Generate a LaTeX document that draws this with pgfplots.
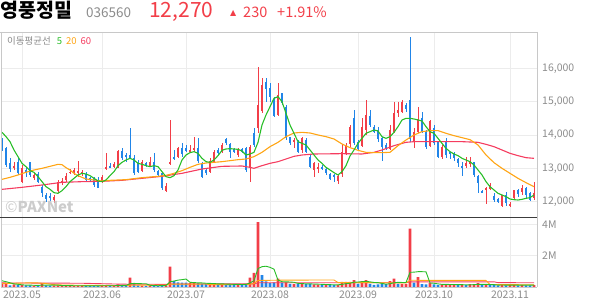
\documentclass[border=0pt]{standalone}
\usepackage{fontspec}
\setmainfont{Noto Sans CJK KR}
\newfontfamily\dv{DejaVu Sans}
\usepackage{pgfplots}
\usepackage{pgfplotstable}
\pgfplotsset{compat=1.18}
\definecolor{cup}{RGB}{242,62,72}
\definecolor{cdn}{RGB}{33,133,232}
\definecolor{ma5}{RGB}{40,190,40}
\definecolor{ma20}{RGB}{255,165,20}
\definecolor{ma60}{RGB}{245,60,95}
\definecolor{gridc}{RGB}{236,236,236}
\definecolor{lbl}{RGB}{140,140,140}
\definecolor{bordc}{RGB}{200,200,200}
\definecolor{darkc}{RGB}{60,60,60}

\pgfplotstableread{
i o h l c
-2 13000 13200 12950 13060
0 12580 13100 12550 13000
3 12720 12850 12650 12800
8 12050 12200 11950 12150
9 12330 12650 12250 12600
10 12550 12700 12500 12620
11 12650 12850 12600 12770
12 12850 12980 12820 12900
13 12870 13000 12800 12940
14 12850 13230 12730 12930
15 12830 12950 12780 12900
20 12600 12800 12550 12750
21 12980 13450 12950 13050
23 13040 13200 13000 13120
24 13020 13550 13000 13520
30 12920 13250 12900 13200
32 13080 13350 13050 13200
36 12320 12550 12280 12480
37 13120 14450 13100 13200
39 13350 13650 13300 13600
42 13480 13700 13450 13550
43 13550 13950 13500 13620
47 12890 13300 12850 13220
48 13200 13550 13150 13500
50 13500 13750 13450 13700
54 13400 13600 13350 13570
57 13000 13700 12600 13650
59 14200 16030 14050 14900
60 14720 15700 14650 15500
64 14600 15550 14570 15200
68 13790 13900 13600 13850
70 13550 13950 13450 13900
73 12950 13200 12750 13150
74 12970 13150 12850 13050
79 12620 12800 12530 12780
80 12820 13730 12750 13500
81 13450 13750 13400 13700
82 13720 14300 13650 14250
85 13680 14500 13650 14250
86 14150 15050 14000 14600
92 13570 14300 13550 14150
93 14100 15000 14050 14650
94 14650 15000 14550 14750
95 14700 15050 14650 15000
98 13800 14200 13600 14100
99 14100 14850 14050 14470
102 13680 14450 13650 14420
105 13340 13700 13280 13640
111 13060 13330 13000 13150
112 13130 13350 13050 13200
116 12350 12450 11920 12420
117 12380 12550 12350 12500
120 11860 12200 11830 12200
122 11870 12000 11850 11930
123 12100 12350 12050 12350
125 12280 12500 12200 12400
128 12100 12600 12050 12270
}\up

\pgfplotstableread{
i o h l c
-5 13830 13900 13530 13710
-4 13600 13650 13050 13100
-3 13170 13300 12900 12980
-1 13180 13350 12800 12870
1 12950 13050 12750 12850
2 13180 13200 12750 12800
4 12830 12900 12550 12600
5 12430 12500 12150 12250
6 12200 12250 12000 12080
7 12160 12250 11950 12100
16 12830 12900 12600 12650
17 12700 12750 12600 12650
18 12720 12750 12450 12500
19 12650 12750 12400 12420
22 13080 13150 13000 13020
25 13520 13600 13250 13300
26 13400 13450 13200 13330
27 13400 14200 13300 13320
28 13320 13400 12800 12850
29 13150 13250 12850 12880
31 13150 13200 13050 13080
33 13200 13450 12900 12950
34 12920 12950 12750 12800
35 12850 12900 12350 12400
38 13350 13550 13250 13280
40 13600 13750 13350 13420
41 13600 13700 13500 13520
44 13600 13900 13150 13230
45 13150 13200 12700 12750
46 12950 13000 12800 12850
49 13550 13600 13400 13450
51 13870 13900 13700 13770
52 13730 13750 13300 13500
53 13570 13600 13450 13500
55 13570 13600 13450 13500
56 13600 13650 12900 12950
58 14050 14200 13650 13700
61 15600 15700 15000 15370
62 15400 15550 15000 15150
63 15050 15150 14550 14570
65 15250 15250 14900 14950
66 14850 14900 13850 13900
67 13930 13950 13700 13750
69 13800 13850 13450 13500
71 13850 13900 13450 13500
72 13350 13400 13000 13030
75 13030 13100 12950 12970
76 12970 13050 12800 12870
77 12830 12850 12650 12670
78 12800 12830 12580 12730
83 14500 14750 13700 13750
84 13800 13850 13550 13570
87 14570 14750 14250 14300
88 14250 14300 14050 14100
89 14150 14250 13800 13870
90 13900 13950 13230 13650
91 13700 13750 13550 13600
96 14900 14950 14700 14770
97 15050 16930 13800 13880
100 14500 14700 14050 14100
101 14100 14150 13570 13650
103 14200 14300 13700 13750
104 13780 13800 13300 13340
106 13800 13900 13300 13400
107 13490 13500 13280 13420
108 13450 13500 13230 13300
109 13290 13300 13050 13170
110 13080 13200 12770 13000
113 13180 13200 12750 12800
114 12760 12800 12250 12550
115 12330 12350 12250 12270
118 12170 12250 12000 12050
119 12080 12100 11950 11980
121 12200 12300 11870 11950
124 12350 12380 12150 12220
126 12400 12450 12100 12200
127 12250 12300 12020 12040
}\dn

\pgfplotstableread{
i v
-5 0.28
-4 0.20
-2 0.16
0 0.14
3 0.08
5 0.24
8 0.08
9 0.10
10 0.07
11 0.12
12 0.07
13 0.06
14 0.09
15 0.07
20 0.08
21 0.07
23 0.07
24 0.16
27 0.60
30 0.08
32 0.08
36 0.08
37 1.30
42 0.25
43 0.30
47 0.20
48 0.22
50 0.18
54 0.18
57 0.60
58 0.90
59 4.15
64 0.53
66 0.30
68 0.18
70 0.22
73 0.16
74 0.15
76 0.16
79 0.14
80 0.32
81 0.32
82 0.32
83 0.44
85 0.38
86 0.44
92 0.38
93 0.53
95 0.18
96 0.18
97 3.74
99 0.64
102 0.25
105 0.16
106 0.16
107 0.16
108 0.16
110 0.14
112 0.18
113 0.18
114 0.25
116 0.14
120 0.16
122 0.12
123 0.14
125 0.12
128 0.12
}\vup

\pgfplotstableread{
i v
-3 0.10
-1 0.12
1 0.10
2 0.10
4 0.09
6 0.10
7 0.09
16 0.08
17 0.06
18 0.08
19 0.08
22 0.08
25 0.12
26 0.08
28 0.20
29 0.10
31 0.07
33 0.10
34 0.08
35 0.12
38 0.38
39 0.30
40 0.28
41 0.28
44 0.25
45 0.22
46 0.20
49 0.18
51 0.18
52 0.15
53 0.15
55 0.16
56 0.20
60 0.76
61 0.36
62 0.25
63 0.30
65 0.28
67 0.20
69 0.20
71 0.18
72 0.20
75 0.14
77 0.12
78 0.12
84 0.20
87 0.20
88 0.14
89 0.16
90 0.20
91 0.18
94 0.20
98 0.28
100 0.18
101 0.16
103 0.16
104 0.14
109 0.12
111 0.12
115 0.12
117 0.12
118 0.12
119 0.10
121 0.10
124 0.10
126 0.10
127 0.10
}\vdn

\pgfplotsset{
  candle/.style={draw=none, mark=none, forget plot,
    error bars/.cd, y dir=both, y explicit, error mark=none,
    error bar style={draw=#1, solid}},
}

\begin{document}
\begin{tikzpicture}[x=1pt,y=1pt]
\path[use as bounding box] (0,0) rectangle (594,304);

% ---------------- price panel ----------------
\begin{axis}[
  at={(1pt,86.5pt)}, anchor=south west, scale only axis,
  width=536pt, height=185.5pt,
  xmin=-5.25, xmax=128.75, ymin=11525, ymax=17090,
  axis line style={draw=none}, major tick length=0pt,
  scaled y ticks=false, scaled x ticks=false,
  xtick={0,20,41,62,84,103,122}, xticklabels={},
  ytick={12000,13000,14000,15000,16000},
  yticklabels={{12,000},{13,000},{14,000},{15,000},{16,000}},
  yticklabel pos=right,
  yticklabel style={anchor=west, inner sep=0pt, xshift=5pt, font=\fontsize{10.5}{11}\selectfont, text=lbl},
  grid=major, major grid style={draw=gridc, line width=0.7pt},
]
% wicks
\addplot[draw=none, mark=none, forget plot, error bars/.cd, y dir=both, y explicit, error mark=none,
  error bar style={draw=cup, line width=0.9pt}]
  table[x=i, y expr={(\thisrow{h}+\thisrow{l})/2}, y error expr={(\thisrow{h}-\thisrow{l})/2}] {\up};
\addplot[draw=none, mark=none, forget plot, error bars/.cd, y dir=both, y explicit, error mark=none,
  error bar style={draw=cdn, line width=0.9pt}]
  table[x=i, y expr={(\thisrow{h}+\thisrow{l})/2}, y error expr={(\thisrow{h}-\thisrow{l})/2}] {\dn};
% bodies
\addplot[draw=none, mark=none, forget plot, error bars/.cd, y dir=both, y explicit, error mark=none,
  error bar style={draw=cup, line width=2.9pt}]
  table[x=i, y expr={(\thisrow{o}+\thisrow{c})/2}, y error expr={max(abs(\thisrow{c}-\thisrow{o})/2,14)}] {\up};
\addplot[draw=none, mark=none, forget plot, error bars/.cd, y dir=both, y explicit, error mark=none,
  error bar style={draw=cdn, line width=2.9pt}]
  table[x=i, y expr={(\thisrow{o}+\thisrow{c})/2}, y error expr={max(abs(\thisrow{c}-\thisrow{o})/2,14)}] {\dn};

% MA60
\addplot[ma60, line width=1.1pt, mark=none] coordinates {
(-5,12370) (0,12430) (5,12500) (10,12580) (15,12600) (20,12610) (25,12640) (30,12700) (35,12760) (40,12850) (45,12980) (50,13060) (55,13070) (57,13030) (58,13000) (60,13080) (62,13150) (64,13200) (66,13280) (68,13360) (70,13400) (73,13430) (80,13440) (85,13430) (88,13480) (90,13550) (93,13680) (96,13780) (98,13800) (110,13800) (114,13780) (116,13720) (118,13650) (120,13550) (122,13450) (124,13380) (126,13320) (128,13300)};
% MA20
\addplot[ma20, line width=1.1pt, mark=none] coordinates {
(-5,12670) (-3,12730) (-1,12800) (1,12880) (3,12950) (5,13000) (7,13060) (9,13120) (10,13110) (11,13020) (12,12950) (13,12850) (14,12780) (16,12680) (18,12650) (20,12620) (22,12640) (24,12650) (26,12660) (28,12690) (30,12720) (32,12740) (34,12760) (36,12790) (38,12850) (40,12930) (42,13030) (44,13120) (46,13160) (48,13180) (50,13200) (52,13230) (54,13260) (56,13280) (58,13350) (60,13480) (62,13650) (64,13780) (66,13950) (68,14060) (70,14080) (72,14060) (74,14000) (76,13950) (78,13880) (80,13730) (82,13620) (84,13540) (86,13480) (88,13470) (90,13470) (92,13480) (94,13680) (96,13850) (98,14000) (100,14100) (102,14130) (104,14130) (106,14050) (108,13980) (110,13920) (112,13860) (114,13700) (116,13400) (118,13170) (120,13000) (122,12850) (124,12700) (126,12570) (128,12450)};
% MA5
\addplot[ma5, line width=1.1pt, mark=none] coordinates {
(-5,14080) (-4,13950) (-3,13800) (-2,13550) (-1,13350) (0,13150) (1,13050) (2,12930) (3,12880) (4,12750) (5,12600) (6,12450) (7,12370) (8,12270) (9,12250) (10,12330) (11,12450) (12,12600) (13,12700) (14,12800) (15,12850) (16,12830) (17,12780) (18,12700) (19,12620) (20,12600) (21,12650) (22,12780) (23,12900) (24,13080) (25,13180) (26,13250) (27,13300) (28,13250) (29,13150) (30,13120) (31,13080) (32,13050) (33,13080) (34,13050) (35,12900) (36,12750) (37,12720) (38,12780) (39,12950) (40,13250) (41,13400) (42,13470) (43,13500) (44,13450) (45,13300) (46,13200) (47,13180) (48,13250) (49,13380) (50,13540) (51,13580) (52,13590) (53,13580) (54,13570) (55,13520) (56,13400) (57,13430) (58,13480) (59,13780) (60,14300) (61,14600) (62,14850) (63,15100) (64,15150) (65,15000) (66,14650) (67,14300) (68,14050) (69,13800) (70,13750) (71,13700) (72,13550) (73,13400) (74,13250) (75,13150) (76,13030) (77,12950) (78,12870) (79,12800) (80,12900) (81,13080) (82,13370) (83,13550) (84,13750) (85,13900) (86,14050) (87,14100) (88,14150) (89,14120) (90,13950) (91,13900) (92,13950) (93,14080) (94,14250) (95,14450) (96,14500) (97,14500) (98,14480) (99,14450) (100,14420) (101,14250) (102,14100) (103,14050) (104,13900) (105,13750) (106,13600) (107,13500) (108,13430) (109,13380) (110,13300) (111,13250) (112,13200) (113,13100) (114,12950) (115,12800) (116,12600) (117,12450) (118,12350) (119,12250) (120,12200) (121,12150) (122,12080) (123,12060) (124,12050) (125,12070) (126,12100) (127,12120) (128,12200)};
\end{axis}

% ---------------- volume panel ----------------
\begin{axis}[
  at={(1pt,17pt)}, anchor=south west, scale only axis,
  width=536pt, height=69.5pt,
  xmin=-5.25, xmax=128.75, ymin=0, ymax=4.45,
  axis line style={draw=none}, major tick length=0pt,
  scaled y ticks=false, scaled x ticks=false,
  xtick={0,20,41,62,84,103,122},
  xticklabels={2023.05,2023.06,2023.07,2023.08,2023.09,2023.10,2023.11},
  xticklabel style={anchor=north, inner sep=0pt, yshift=-4pt, font=\fontsize{10.5}{11}\selectfont, text=lbl},
  ytick={2,4}, yticklabels={2M,4M},
  yticklabel pos=right,
  yticklabel style={anchor=west, inner sep=0pt, xshift=5pt, font=\fontsize{10.5}{11}\selectfont, text=lbl},
  grid=major, major grid style={draw=gridc, line width=0.7pt},
]
\addplot[ybar, bar width=2.8pt, bar shift=0pt, fill=cup, draw=none] table[x=i, y=v] {\vup};
\addplot[ybar, bar width=2.8pt, bar shift=0pt, fill=cdn, draw=none] table[x=i, y=v] {\vdn};
\addplot[ma60, line width=0.9pt, mark=none] coordinates {
(-5,0.26) (15,0.24) (25,0.18) (36,0.17) (37,0.19) (58,0.20) (59,0.27) (96,0.27) (97,0.33) (118,0.33) (119,0.28) (128,0.27)};
\addplot[ma20, line width=0.9pt, mark=none] coordinates {
(-5,0.22) (-2,0.24) (1,0.26) (4,0.26) (6,0.22) (8,0.15) (10,0.13) (14,0.11) (20,0.10) (26,0.09) (27,0.12) (36,0.12) (37,0.18) (46,0.19) (47,0.15) (56,0.16) (57,0.18) (58,0.22) (59,0.42) (66,0.44) (78,0.45) (79,0.28) (86,0.28) (96,0.26) (97,0.43) (116,0.42) (117,0.16) (128,0.14)};
\addplot[ma5, line width=0.9pt, mark=none] coordinates {
(-5,0.40) (-4,0.34) (-3,0.27) (-2,0.20) (-1,0.17) (0,0.14) (1,0.12) (2,0.12) (3,0.11) (4,0.10) (5,0.12) (6,0.12) (7,0.12) (8,0.12) (9,0.12) (10,0.09) (11,0.09) (12,0.09) (13,0.08) (14,0.08) (15,0.08) (16,0.07) (17,0.07) (18,0.08) (19,0.07) (20,0.08) (21,0.08) (22,0.08) (23,0.08) (24,0.09) (25,0.10) (26,0.10) (27,0.21) (28,0.23) (29,0.22) (30,0.21) (31,0.21) (32,0.11) (33,0.09) (34,0.08) (35,0.09) (36,0.09) (37,0.34) (38,0.38) (39,0.44) (40,0.47) (41,0.51) (42,0.30) (43,0.28) (44,0.27) (45,0.26) (46,0.24) (47,0.23) (48,0.22) (49,0.20) (50,0.20) (51,0.19) (52,0.18) (53,0.17) (54,0.17) (55,0.16) (56,0.17) (57,0.26) (58,0.40) (59,1.18) (60,1.30) (61,1.33) (62,1.26) (63,1.14) (64,0.44) (65,0.34) (66,0.33) (67,0.32) (68,0.30) (69,0.23) (70,0.22) (71,0.20) (72,0.20) (73,0.19) (74,0.18) (75,0.17) (76,0.16) (77,0.15) (78,0.14) (79,0.14) (80,0.17) (81,0.21) (82,0.24) (83,0.31) (84,0.32) (85,0.34) (86,0.36) (87,0.33) (88,0.29) (89,0.28) (90,0.23) (91,0.18) (92,0.21) (93,0.27) (94,0.30) (95,0.29) (96,0.29) (97,0.94) (98,0.95) (99,0.98) (100,0.98) (101,0.97) (102,0.26) (103,0.24) (104,0.20) (105,0.17) (106,0.17) (107,0.16) (108,0.16) (109,0.15) (110,0.15) (111,0.14) (112,0.14) (113,0.15) (114,0.17) (115,0.17) (116,0.17) (117,0.16) (118,0.15) (119,0.12) (120,0.13) (121,0.12) (122,0.12) (123,0.12) (124,0.12) (125,0.12) (126,0.12) (127,0.12) (128,0.12)};
\end{axis}

% ---------------- frame ----------------
\draw[bordc, line width=0.8pt] (0,272) -- (537,272);
\draw[bordc, line width=0.8pt] (1,272) -- (1,17);
\draw[bordc, line width=0.8pt] (537,272) -- (537,17);
\draw[bordc, line width=0.6pt] (1,17) -- (537,17);
\draw[darkc, line width=1pt] (0,86.5) -- (537,86.5);

% ---------------- header ----------------
\node[anchor=base west, inner sep=0pt] at (0,286) {\fontsize{19.5}{20}\selectfont\bfseries 영풍정밀};
\node[anchor=base west, inner sep=0pt, text=lbl] at (86,286) {\fontsize{13.5}{14}\selectfont 036560};
\node[anchor=base west, inner sep=0pt, text=cup] at (149,286) {\fontsize{21}{21}\selectfont 12,270};
\node[anchor=base west, inner sep=0pt, text=cup] at (230,288) {\dv\fontsize{8}{8}\selectfont ▲};
\node[anchor=base west, inner sep=0pt, text=cup] at (243,286) {\fontsize{14.5}{15}\selectfont 230};
\node[anchor=base west, inner sep=0pt, text=cup] at (277,286) {\fontsize{14.5}{15}\selectfont +1.91\%};

% legend
\node[anchor=west, inner sep=0pt] at (7,263) {\fontsize{9.5}{10}\selectfont{\color{lbl}이동평균선}\hspace{6pt}{\color{ma5}5}\hspace{4pt}{\color{ma20}20}\hspace{4pt}{\color{ma60}60}};

% watermark
\node[anchor=west, inner sep=0pt, text=black!20] at (5,97) {\fontsize{15}{15}\selectfont ©\bfseries PAXNet};
\end{tikzpicture}
\end{document}
